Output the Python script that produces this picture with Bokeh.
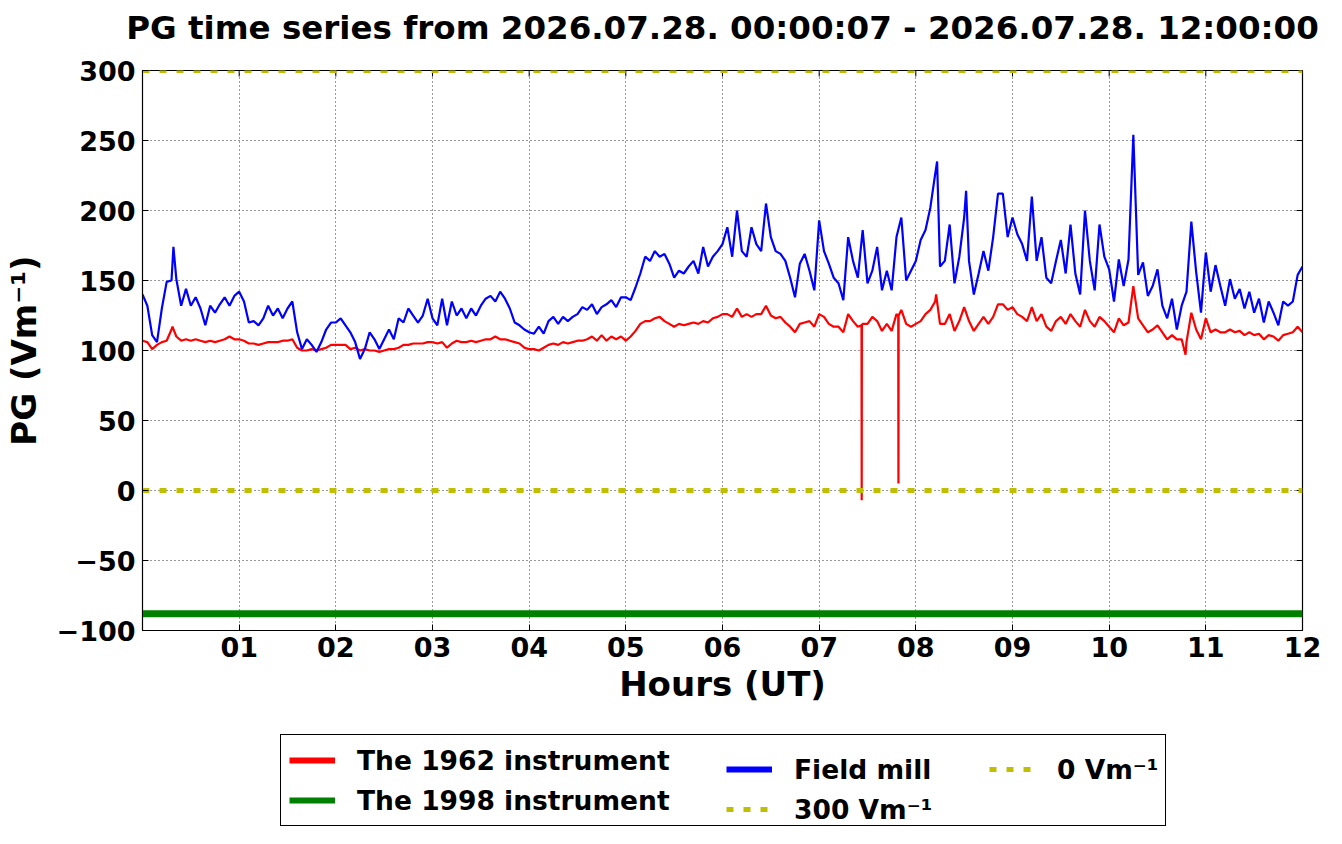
import numpy as np
from bokeh.plotting import figure
from bokeh.layouts import column
from bokeh.models import Range1d, FixedTicker, Legend, LegendItem
from bokeh.embed import file_html
from bokeh.resources import INLINE

# ---------------- data ----------------
STEP_H = 0.05  # sampling step of the base series, hours

field_mill = [
    140, 132, 111, 106, 130, 149, 150, 151, 132, 144, 132, 138, 130, 118, 132, 127, 133, 138, 132, 139,
    142, 135, 120, 121, 118, 123, 132, 125, 130, 123, 130, 135, 113, 101, 108, 104, 99, 106, 115, 120,
    120,
    123, 118, 113, 106, 94, 101, 113, 108, 101, 108, 115, 108, 123, 120, 130, 125, 120, 125, 137, 123,
    118, 137, 118, 135, 125, 130, 123, 130, 125, 132, 137, 139, 135, 142, 137, 130, 120, 118, 115, 113,
    112, 117, 112, 121, 124, 119, 124, 121, 124, 126, 131, 129, 133, 126, 131, 133, 136, 131, 138, 138,
    136, 145, 155, 167, 164, 171, 167, 169, 162, 152, 157, 155, 160, 164, 155, 174, 160, 167, 171, 176,
    188, 167, 200, 171, 167, 188, 176, 171, 205, 181, 171, 169, 164, 152, 138, 162, 169, 157, 143, 193,
    171, 162, 152, 148, 136, 181, 164, 152, 186, 148, 157, 174, 143, 157, 143, 181, 195, 150, 157, 164,
    179, 186, 202, 226, 160, 164, 190, 148, 167, 195, 164, 140, 155, 171, 157, 181, 212, 212, 181, 195,
    183, 176, 164, 210, 164, 181, 152, 148, 164, 179, 155, 190, 155, 140, 200, 164, 143, 190, 167, 158,
    135, 165, 146, 165, 254, 154, 163, 139, 146, 158, 132, 123, 137, 115, 132, 142, 192, 156, 127, 170,
    142, 161, 146, 132, 151, 137, 144, 130, 142, 127, 137, 120, 135, 127, 118, 135, 132, 135, 154, 160,
]
field_mill_extra_h = [0.32, 8.22, 8.52]
field_mill_extra_v = [174, 235, 214]

instr_1962 = [
    107, 106, 101, 104, 106, 107, 115, 110, 107, 108, 107, 108, 107, 106, 107, 106, 107, 108, 110, 108,
    108, 107, 105, 105, 104, 105, 106, 106, 106, 107, 107, 108, 102, 100, 100, 101, 100, 101, 102, 104,
    104,
    104, 104, 101, 102, 100, 101, 100, 100, 99, 100, 101, 101, 102, 104, 104, 105, 105, 105, 106, 106,
    105, 106, 102, 105, 107, 106, 106, 107, 106, 107, 108, 108, 110, 108, 108, 107, 106, 105, 102, 101,
    101, 100, 102, 104, 105, 104, 106, 105, 106, 107, 107, 108, 110, 107, 111, 107, 110, 108, 110, 107,
    110, 114, 119, 121, 121, 123, 124, 121, 119, 117, 119, 118, 119, 120, 119, 121, 120, 123, 124, 126,
    126, 124, 130, 124, 126, 124, 126, 126, 132, 125, 123, 124, 120, 117, 113, 119, 120, 121, 117, 126,
    124, 119, 117, 117, 113, 126, 121, 117, 119, 119, 124, 121, 114, 119, 114, 126, 129, 119, 117, 119,
    121, 126, 129, 135, 119, 119, 126, 114, 121, 131, 121, 114, 119, 124, 119, 124, 133, 133, 129, 131,
    126, 124, 121, 131, 121, 126, 117, 114, 121, 124, 119, 126, 121, 117, 129, 121, 117, 124, 121, 117,
    113, 123, 118, 120, 146, 123, 118, 113, 115, 118, 113, 108, 111, 108, 108, 106, 127, 115, 108, 123,
    113, 115, 113, 113, 115, 113, 114, 111, 113, 111, 112, 108, 111, 110, 107, 111, 112, 113, 117, 113,
]
instr_1962_extra_h = [0.31, 7.438, 7.440, 7.442, 7.818, 7.820, 7.822, 8.21, 10.79]
instr_1962_extra_v = [117, 118, -7, 118, 125, 5, 125, 140, 97]

instr_1998_h = [0, 12]
instr_1998_v = [-88, -88]

ref_levels = [300, 0]
span_h = [0, 12]

x_ticks = [1, 2, 3, 4, 5, 6, 7, 8, 9, 10, 11, 12]
x_tick_labels = ["01", "02", "03", "04", "05", "06", "07", "08", "09", "10", "11", "12"]
y_ticks = [-100, -50, 0, 50, 100, 150, 200, 250, 300]
y_tick_labels = ["−100", "−50", "0", "50", "100", "150", "200", "250", "300"]

title_text = "PG time series from 2026.07.28. 00:00:07 - 2026.07.28. 12:00:00"


def merged(base, extra_h, extra_v):
    h = [i * STEP_H for i in range(len(base))] + list(extra_h)
    v = list(base) + list(extra_v)
    order = np.argsort(np.array(h), kind="stable")
    return list(np.array(h)[order]), list(np.array(v)[order])


fm_h, fm_v = merged(field_mill, field_mill_extra_h, field_mill_extra_v)
r62_h, r62_v = merged(instr_1962, instr_1962_extra_h, instr_1962_extra_v)

# ---------------- layout constants ----------------
FONT = "DejaVu Sans"
RED, GREEN, BLUE, YEL = "#ff0000", "#008000", "#0000ff", "#bfbf00"
W = 1326
H_TOP = 52
H_MAIN = 668
H_LEG = 108


def bare_strip(height, xr, yr):
    f = figure(width=W, height=height, x_range=xr, y_range=yr,
               output_backend="svg", toolbar_location=None, min_border=0)
    f.axis.visible = False
    f.grid.visible = False
    f.outline_line_color = None
    f.background_fill_color = "white"
    f.border_fill_color = "white"
    return f


# ---------------- title strip (title panel is not clipped to the frame) ----------------
t = bare_strip(H_TOP, Range1d(0, 1), Range1d(0, 1))
t.title.text = title_text
t.title.text_font = FONT
t.title.text_font_style = "bold"
t.title.text_font_size = "32.5px"
t.title.text_color = "black"
t.title.align = "center"
t.title.offset = -4
t.title.vertical_align = "bottom"
t.title.standoff = 12

# ---------------- main figure ----------------
p = figure(width=W, height=H_MAIN, x_range=Range1d(0, 12), y_range=Range1d(-100, 300),
           output_backend="svg", toolbar_location=None,
           min_border_left=140, min_border_right=24, min_border_top=18, min_border_bottom=90)
p.background_fill_color = "white"
p.border_fill_color = "white"
p.outline_line_color = "black"
p.outline_line_width = 1.2
p.outline_line_alpha = 1.0

p.xaxis.ticker = FixedTicker(ticks=x_ticks)
p.xaxis.major_label_overrides = dict(zip(x_ticks, x_tick_labels))
p.yaxis.ticker = FixedTicker(ticks=y_ticks)
p.yaxis.major_label_overrides = dict(zip(y_ticks, y_tick_labels))
p.xaxis.axis_label = "Hours (UT)"
p.yaxis.axis_label = "PG (Vm⁻¹)"
for ax in (p.xaxis[0], p.yaxis[0]):
    ax.major_label_text_font = FONT
    ax.major_label_text_font_style = "bold"
    ax.major_label_text_font_size = "27px"
    ax.major_label_text_color = "black"
    ax.axis_label_text_font = FONT
    ax.axis_label_text_font_style = "bold"
    ax.axis_label_text_font_size = "34px"
    ax.axis_label_text_color = "black"
    ax.major_tick_in = 6
    ax.major_tick_out = 0
    ax.major_tick_line_color = "black"
    ax.minor_tick_line_color = None
    ax.axis_line_color = "black"
p.xaxis.major_label_standoff = 6
p.yaxis.major_label_standoff = 7
p.xaxis.axis_label_standoff = 4
p.yaxis.axis_label_standoff = 10

p.grid.grid_line_color = "black"
p.grid.grid_line_dash = "1 3"
p.grid.grid_line_alpha = 0.8
p.grid.grid_line_width = 1

# inward ticks on the right and top frame edges (clipped dash markers)
p.scatter(x=[12] * len(y_ticks), y=y_ticks, marker="dash", size=12, line_color="black", line_width=1)
p.scatter(x=x_ticks, y=[300] * len(x_ticks), marker="dash", angle=np.pi / 2, size=12,
          line_color="black", line_width=1)

p.line(r62_h, r62_v, line_color=RED, line_width=2.2)
p.line(instr_1998_h, instr_1998_v, line_color=GREEN, line_width=7)
p.line(fm_h, fm_v, line_color=BLUE, line_width=2.2)
p.line(span_h, [ref_levels[0]] * 2, line_color=YEL, line_width=5, line_dash="7 10")
p.line(span_h, [ref_levels[1]] * 2, line_color=YEL, line_width=5, line_dash="7 10")

# ---------------- legend strip (frame aligned with the main frame) ----------------
q = bare_strip(H_LEG, Range1d(0, 1), Range1d(0, 1))

nan = [float("nan")]
g_red = q.line(nan, nan, line_color=RED, line_width=6)
g_green = q.line(nan, nan, line_color=GREEN, line_width=6)
g_blue = q.line(nan, nan, line_color=BLUE, line_width=6)
g_300 = q.line(nan, nan, line_color=YEL, line_width=5, line_dash="7 10")
g_0 = q.line(nan, nan, line_color=YEL, line_width=5, line_dash="7 10")


def make_legend(items, loc, boxed, label_width=20):
    lg = Legend(items=items, location=loc, orientation="vertical")
    lg.label_text_font = FONT
    lg.label_text_font_style = "bold"
    lg.label_text_font_size = "26.5px"
    lg.label_text_color = "black"
    lg.label_standoff = 22
    lg.glyph_width = 46
    lg.glyph_height = 20
    lg.label_height = 34
    lg.label_width = label_width
    lg.spacing = 6
    lg.padding = 8
    lg.margin = 0
    if boxed:
        lg.border_line_color = "black"
        lg.border_line_width = 1
        lg.border_line_alpha = 1
        lg.background_fill_color = "white"
        lg.background_fill_alpha = 1
    else:
        lg.border_line_color = None
        lg.background_fill_alpha = 0
    q.add_layout(lg, "center")
    return lg


# three legend columns sharing one box (the first legend draws the box)
make_legend([LegendItem(label="The 1962 instrument", renderers=[g_red]),
             LegendItem(label="The 1998 instrument", renderers=[g_green])],
            (138, 2), True, label_width=800)
make_legend([LegendItem(label="Field mill", renderers=[g_blue]),
             LegendItem(label="300 Vm⁻¹", renderers=[g_300])],
            (584, 2), False)
make_legend([LegendItem(label="0 Vm⁻¹", renderers=[g_0])],
            (847, 42), False)

open("out.html", "w").write(file_html(column(t, p, q), INLINE))
